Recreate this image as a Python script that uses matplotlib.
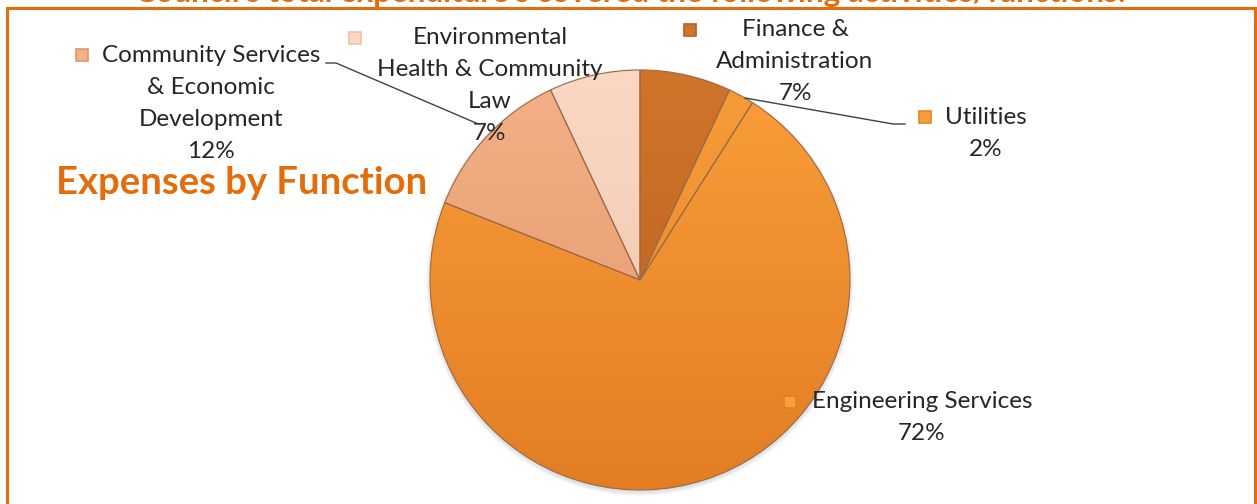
import numpy as np
import matplotlib.pyplot as plt
from matplotlib.colors import LinearSegmentedColormap
from matplotlib.patches import Rectangle

# data (shares, clockwise from 12 o'clock)
functions = ["Finance &\nAdministration", "Utilities", "Engineering Services",
             "Community Services\n& Economic\nDevelopment",
             "Environmental\nHealth & Community\nLaw"]
shares = [7, 2, 72, 12, 7]
top_colors = ["#D0742A", "#F79C38", "#FA9E3A", "#F4B087", "#FBD8C4"]
bottom_colors = ["#B8601C", "#E8842A", "#E27D24", "#E2976A", "#EEC2A8"]

W, H = 1257, 504
ORANGE = "#E46C0A"
TXT = "#262626"
FONT = "Lato"

fig = plt.figure(figsize=(W / 100, H / 100), dpi=100)
ax = fig.add_axes([0, 0, 1, 1])
ax.axis("off")


def py(y):
    # pixel row (from top) -> data y
    return H - y


cx, cy, r = 640, 280, 210
wedges, _ = ax.pie(shares, startangle=90, counterclock=False,
                   center=(cx, py(cy)), radius=r, colors=top_colors,
                   wedgeprops=dict(edgecolor="#9a6a48", linewidth=0.8))

# soft shadow under the pie
for k in range(5):
    sh = plt.Circle((cx, py(cy) - 2), r + 3 - k, color="#000000",
                    alpha=0.025, zorder=0)
    ax.add_patch(sh)

# vertical gradient shading inside each slice
grad = np.linspace(0, 1, 256).reshape(-1, 1)
for w, c0, c1 in zip(wedges, top_colors, bottom_colors):
    cmap = LinearSegmentedColormap.from_list("g", [c1, c0])
    im = ax.imshow(grad, cmap=cmap, origin="lower", aspect="auto",
                   extent=(cx - r, cx + r, py(cy) - r, py(cy) + r), zorder=1.5)
    im.set_clip_path(w)
    w.set_facecolor("none")
    w.set_zorder(2)

# labels: (first-line centre x, first-line y, marker x)
label_pos = [(795, 30, 690), (986, 117, 925), (922, 402, 790),
             (211, 55, 82), (490, 38, 355)]
step = 32
for name, pct, (lx, ly, mx), c0, c1 in zip(functions, shares, label_pos,
                                           top_colors, bottom_colors):
    lines = name.split("\n") + [f"{pct}%"]
    for i, t in enumerate(lines):
        ax.text(lx, py(ly + i * step), t, ha="center", va="center",
                fontsize=17.5, color=TXT, family=FONT)
    ax.add_patch(Rectangle((mx - 6, py(ly) - 6), 12, 12, facecolor=c0,
                           edgecolor=c1, linewidth=1.2, zorder=3))

# leader lines
ax.plot([326, 336, 476], [py(63), py(63), py(123)], color="#404040", lw=1)
ax.plot([745, 893, 905], [py(98), py(124), py(124)], color="#404040", lw=1)

ax.text(242, py(183), "Expenses by Function", ha="center", va="center",
        fontsize=27.5, fontweight="bold", color=ORANGE, family=FONT)

# clipped title at the very top
ax.text(630, py(-7), "Council's total expenditure's covered the following activities/functions:",
        ha="center", va="center", fontsize=22.5, fontweight="bold",
        color=ORANGE, family=FONT, clip_on=False)

# frame
ax.add_patch(Rectangle((7, -20), 1248, py(8) + 20, fill=False,
                       edgecolor=ORANGE, linewidth=2.2, zorder=4))

ax.set_xlim(0, W)
ax.set_ylim(0, H)
ax.set_aspect("equal")

fig.savefig("out.png", dpi=100)
